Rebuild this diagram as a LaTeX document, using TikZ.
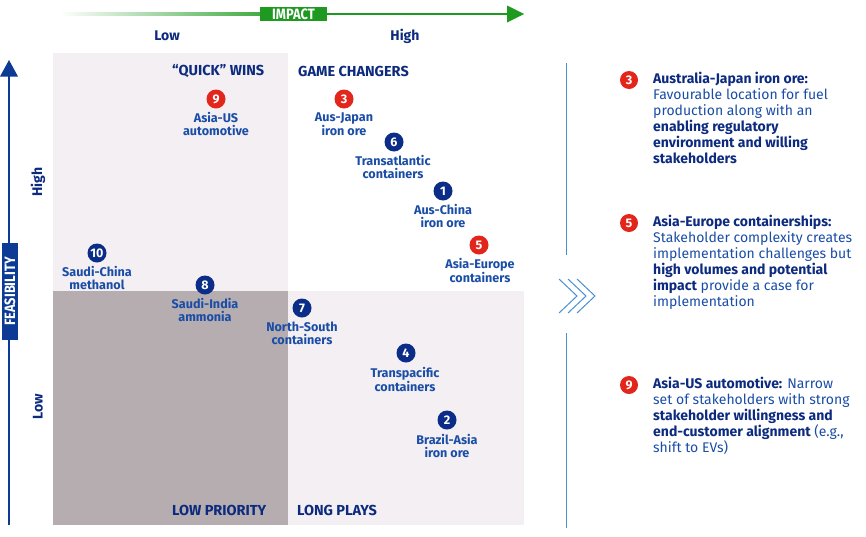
\documentclass[tikz,border=0pt]{standalone}
\usepackage{fontspec}
\setmainfont{Fira Sans}
\newfontfamily\condf[FakeStretch=0.86]{Fira Sans}
\definecolor{navy}{HTML}{0B2D87}
\definecolor{redc}{HTML}{E3261C}
\definecolor{tblue}{HTML}{1A4DA6}
\definecolor{bnavy}{HTML}{0C2A7E}
\definecolor{qlight}{HTML}{F3EFF2}
\definecolor{qdark}{HTML}{B5ADB0}
\definecolor{igreen}{HTML}{1D9A1F}
\definecolor{divblue}{HTML}{4A90D0}
\definecolor{axblue}{HTML}{0D3A94}
\tikzset{
  numn/.style={circle, fill=navy, text=white, minimum size=19pt, inner sep=0pt, font=\bfseries\fontsize{12.5}{12.5}\selectfont},
  numr/.style={numn, fill=redc},
  lbl/.style={align=center, text=tblue, inner sep=0pt, font=\bfseries\fontsize{12.6}{13}\selectfont},
  qtitle/.style={text=bnavy, inner sep=0pt, font=\bfseries\fontsize{14.5}{14.5}\selectfont},
  axlbl/.style={text=bnavy, inner sep=0pt, font=\bfseries\fontsize{14}{14}\selectfont},
  desc/.style={align=left, anchor=north west, text=tblue, inner sep=0pt, font=\fontsize{14}{16.1}\selectfont},
  divline/.style={draw=divblue, line width=1.3pt},
}
\newcommand{\bn}[1]{\textbf{\color{bnavy}#1}}
\begin{document}
\begin{tikzpicture}[x=1pt,y=-1pt]
\useasboundingbox (0,0) rectangle (866,536);
% quadrants
\fill[qlight] (53,53) rectangle (288,291);
\fill[qdark] (53,291) rectangle (288,525);
\fill[qlight] (288,291) rectangle (524,525);
% impact axis
\shade[left color=white, right color=igreen] (60,12.8) rectangle (300,15.2);
\fill[igreen] (300,12.8) rectangle (508,15.2);
\fill[igreen] (507,5.5) -- (524,14) -- (507,22.5) -- cycle;
\node[fill=igreen, text=white, minimum width=67pt, minimum height=14pt, inner sep=0pt, font=\condf\bfseries\fontsize{15}{15}\selectfont] (impact) at (293.5,14) {IMPACT};
\node[axlbl] (ilow) at (167,36) {Low};
\node[axlbl] (ihigh) at (405,36) {High};
% feasibility axis
\draw[axblue, line width=2pt] (9,525) -- (9,74);
\fill[axblue] (0,76.5) -- (9,60) -- (18,76.5) -- cycle;
\node[fill=axblue, text=white, rotate=90, minimum width=97pt, minimum height=16pt, inner sep=0pt, font=\condf\bfseries\fontsize{15}{15}\selectfont] (feas) at (10,291.5) {FEASIBILITY};
\node[axlbl, rotate=90] (fhigh) at (38,182) {High};
\node[axlbl, rotate=90] (flow) at (38,407) {Low};
% quadrant titles
\node[qtitle, anchor=west] (qw) at (172,71) {“QUICK” WINS};
\node[qtitle, anchor=west] (gc) at (298,71) {GAME CHANGERS};
\node[qtitle, anchor=west] (lp) at (172,510) {LOW PRIORITY};
\node[qtitle, anchor=west] (lo) at (297,510) {LONG PLAYS};
% points
\node[numr] (n9) at (216,99) {9};
\node[lbl] (l9) at (216,124) {Asia-US\\automotive};
\node[numr] (n3) at (344,99) {3};
\node[lbl] (l3) at (344,124.5) {Aus-Japan\\iron ore};
\node[numn] (n6) at (394,142) {6};
\node[lbl] (l6) at (393,167) {Transatlantic\\containers};
\node[numn] (n1) at (443,191) {1};
\node[lbl] (l1) at (443,216) {Aus-China\\iron ore};
\node[numr] (n5) at (479,245) {5};
\node[lbl] (l5) at (480,270.5) {Asia-Europe\\containers};
\node[numn] (n10) at (97,253) {10};
\node[lbl] (l10) at (97,278) {Saudi-China\\methanol};
\node[numn] (n8) at (205,285) {8};
\node[lbl] (l8) at (205,310) {Saudi-India\\ammonia};
\node[numn] (n7) at (302,308) {7};
\node[lbl] (l7) at (302,333) {North-South\\containers};
\node[numn] (n4) at (406,353) {4};
\node[lbl] (l4) at (405,379) {Transpacific\\containers};
\node[numn] (n2) at (447,420) {2};
\node[lbl] (l2) at (447,445.5) {Brazil-Asia\\iron ore};
% divider
\draw[divline] (566.5,63) -- (566.5,255);
\draw[divline] (566.5,333) -- (566.5,528);
\foreach \dx in {0,9,18}{
  \draw[divblue, line width=1pt] (559+\dx,279) -- (577+\dx,296) -- (559+\dx,313);
}
% right descriptions
\node[numr, minimum size=18pt] (r3) at (629,80) {3};
\node[desc] (d3) at (653,71.5) {\bn{Australia-Japan iron ore:}\\Favourable location for fuel\\production along with an\\\bn{enabling regulatory}\\\bn{environment and willing}\\\bn{stakeholders}};
\node[numr, minimum size=18pt] (r5) at (629,223) {5};
\node[desc] (d5) at (653,214.5) {\bn{Asia-Europe containerships:}\\Stakeholder complexity creates\\implementation challenges but\\\bn{high volumes and potential}\\\bn{impact} provide a case for\\implementation};
\node[numr, minimum size=18pt] (r9) at (629,385) {9};
\node[desc] (d9) at (653,376.5) {\bn{Asia-US automotive:} Narrow\\set of stakeholders with strong\\\bn{stakeholder willingness and}\\\bn{end-customer alignment} (e.g.,\\shift to EVs)};
\end{tikzpicture}
\end{document}
